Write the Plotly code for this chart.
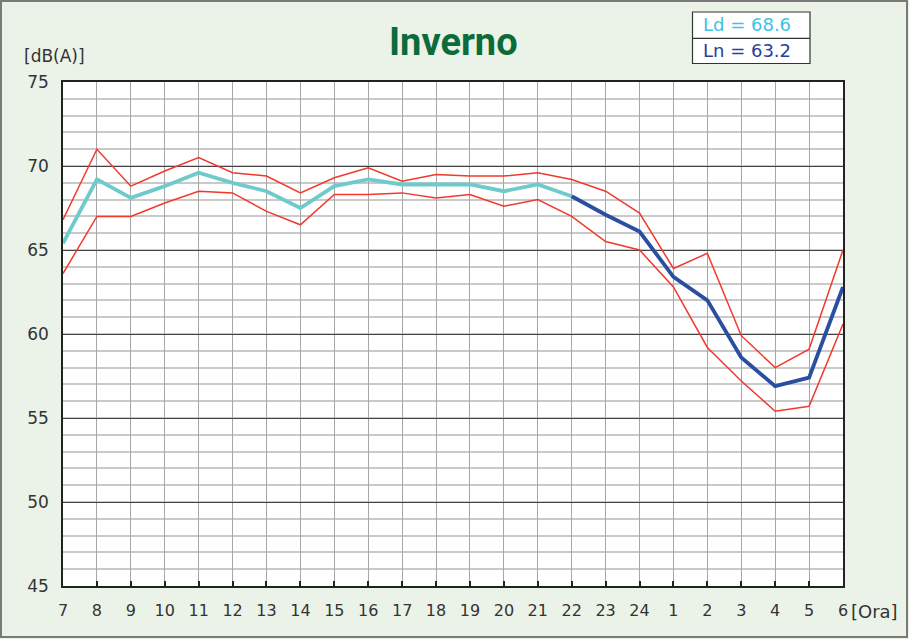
import plotly.graph_objects as go

hours = ["7","8","9","10","11","12","13","14","15","16","17","18","19","20","21","22","23","24","1","2","3","4","5","6"]
upper = [66.8,71.0,68.8,69.7,70.5,69.6,69.4,68.4,69.3,69.9,69.1,69.5,69.4,69.4,69.6,69.2,68.5,67.2,63.9,64.8,59.9,58.0,59.1,65.0]
mean  = [65.4,69.2,68.1,68.8,69.6,69.0,68.5,67.5,68.8,69.2,68.9,68.9,68.9,68.5,68.9,68.2,67.1,66.1,63.4,62.0,58.6,56.9,57.4,62.8]
lower = [63.6,67.0,67.0,67.8,68.5,68.4,67.3,66.5,68.3,68.3,68.4,68.1,68.3,67.6,68.0,67.0,65.5,65.0,62.8,59.2,57.2,55.4,55.7,60.6]
day_end = 16  # index after "22"
ld_text = "Ld = 68.6"
ln_text = "Ln = 63.2"
y_ticks = [45,50,55,60,65,70,75]

W, H = 909, 639
L, R, T, B = 63, 843, 82, 586

def px(x):
    return (x - L) / (R - L)

def py(y):
    return (B - y) / (B - T)

fig = go.Figure()
fig.add_trace(go.Scatter(x=hours, y=upper, mode="lines", line=dict(color="#f2382c", width=1.5), hoverinfo="skip"))
fig.add_trace(go.Scatter(x=hours, y=lower, mode="lines", line=dict(color="#f2382c", width=1.5), hoverinfo="skip"))
fig.add_trace(go.Scatter(x=hours[:day_end], y=mean[:day_end], mode="lines", line=dict(color="#6fcbcb", width=3.8)))
fig.add_trace(go.Scatter(x=hours[day_end-1:], y=mean[day_end-1:], mode="lines", line=dict(color="#2a4ea0", width=3.8)))

font_main = "DejaVu Sans, Verdana, sans-serif"

fig.update_layout(
    width=W, height=H,
    margin=dict(l=L, r=W - R, t=T, b=H - B),
    paper_bgcolor="#ebf3e8",
    plot_bgcolor="white",
    showlegend=False,
    font=dict(family=font_main, color="#333333"),
    xaxis=dict(
        type="category", categoryorder="array", categoryarray=hours,
        range=[0, len(hours) - 1], automargin=False,
        showgrid=True, gridcolor="#a6a6a6", gridwidth=1,
        showline=True, linecolor="#222222", linewidth=1.5, mirror=True,
        ticks="inside", ticklen=5, tickcolor="#222222", tickwidth=1.5,
        tickfont=dict(size=16, color="#333333"),
        ticklabelstandoff=9,
        zeroline=False,
    ),
    yaxis=dict(
        range=[45, 75], tickvals=y_ticks, automargin=False,
        showgrid=True, gridcolor="#444444", gridwidth=1,
        minor=dict(dtick=1, tick0=45, showgrid=True, gridcolor="#c9c9c9", gridwidth=1.5),
        showline=True, linecolor="#222222", linewidth=1.5, mirror=True,
        ticks="", tickfont=dict(size=17, color="#333333"),
        ticklabelstandoff=9,
        zeroline=False,
    ),
)

# outer frame
fig.add_shape(type="rect", xref="paper", yref="paper",
              x0=px(1), x1=px(907), y0=py(637), y1=py(1),
              line=dict(color="#7a7a7a", width=2), fillcolor="rgba(0,0,0,0)", layer="below")

# legend box
fig.add_shape(type="rect", xref="paper", yref="paper",
              x0=px(692.5), x1=px(810), y0=py(63.5), y1=py(12),
              line=dict(color="#333333", width=1.2), fillcolor="white")
fig.add_shape(type="line", xref="paper", yref="paper",
              x0=px(692.5), x1=px(810), y0=py(38.3), y1=py(38.3),
              line=dict(color="#333333", width=1.2))
fig.add_annotation(text=ld_text, xref="paper", yref="paper", x=px(747), y=py(25),
                   xanchor="center", yanchor="middle",
                   showarrow=False, font=dict(size=18, color="#3cc3e6", family=font_main))
fig.add_annotation(text=ln_text, xref="paper", yref="paper", x=px(747), y=py(50),
                   xanchor="center", yanchor="middle",
                   showarrow=False, font=dict(size=18, color="#2b3e9a", family=font_main))

# title
fig.add_annotation(text="<b>Inverno</b>", xref="paper", yref="paper", x=px(453), y=py(42),
                   xanchor="center", yanchor="middle", showarrow=False,
                   font=dict(size=38, color="#0b6b3b", family="Liberation Sans Narrow, Roboto, sans-serif"))

# axis unit labels
fig.add_annotation(text="[dB(A)]", xref="paper", yref="paper", x=px(22), y=py(56),
                   xanchor="left", yanchor="middle", showarrow=False,
                   font=dict(size=17, color="#333333"))
fig.add_annotation(text="[Ora]", xref="paper", yref="paper", x=px(849), y=py(611),
                   xanchor="left", yanchor="middle", showarrow=False,
                   font=dict(size=18, color="#333333"))

fig.write_html("out.html", config={"displayModeBar": False},
               post_script="document.body.style.margin='0';")
